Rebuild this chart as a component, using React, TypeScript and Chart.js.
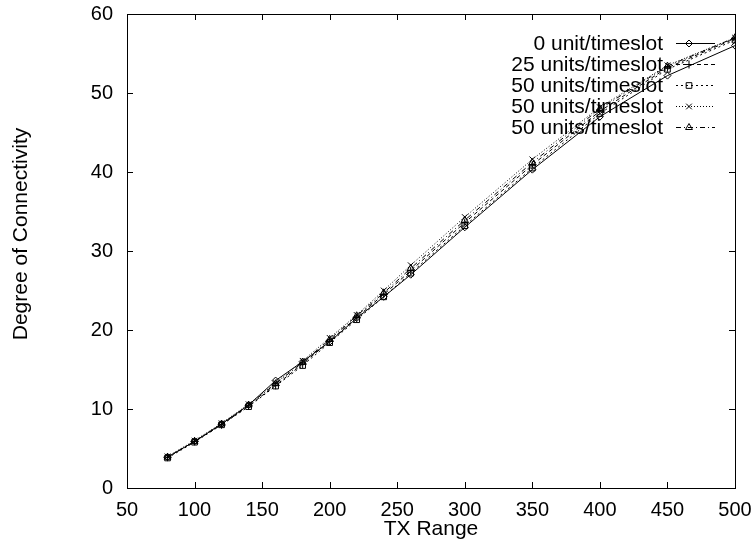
import React, { useEffect, useRef } from "react";
import { Chart, registerables } from "chart.js";
import { drawPoint } from "chart.js/helpers";

Chart.register(...registerables);

const txRange = [80, 100, 120, 140, 160, 180, 200, 220, 240, 260, 300, 350, 400, 450, 500];

const unit0 = [3.9, 5.9, 8.1, 10.5, 13.6, 16.0, 18.5, 21.5, 24.2, 27.0, 33.0, 40.3, 47.0, 52.2, 56.0];
const units25 = [3.9, 5.9, 8.0, 10.4, 13.0, 15.7, 18.6, 21.6, 24.5, 27.5, 33.6, 40.9, 47.7, 53.2, 56.9];
const units50a = [3.8, 5.8, 8.0, 10.3, 12.9, 15.5, 18.4, 21.3, 24.2, 27.2, 33.2, 40.5, 47.4, 53.0, 56.7];
const units50b = [4.0, 6.0, 8.2, 10.6, 13.3, 16.1, 19.0, 21.9, 25.0, 28.2, 34.3, 41.6, 48.2, 53.5, 57.0];
const units50c = [3.9, 5.9, 8.1, 10.5, 13.2, 15.9, 18.8, 21.8, 24.7, 27.8, 33.9, 41.2, 48.0, 53.4, 57.0];

const seriesLabels = [
  "0 unit/timeslot",
  "25 units/timeslot",
  "50 units/timeslot",
  "50 units/timeslot",
  "50 units/timeslot",
];
const seriesValues = [unit0, units25, units50a, units50b, units50c];
const pointStyles = ["rectRot", "cross", "rect", "crossRot", "triangle"];
const dashes: number[][] = [[], [4, 3], [2, 3], [1, 2], [5, 3, 1, 3]];
const radii = [3.5, 4, 4, 4, 4];

const xTitle = "TX Range";
const yTitle = "Degree of Connectivity";

const FONT = '"Liberation Sans", Arial, Helvetica, sans-serif';
const FS = 20;
const FS_TEXT = 21;

const framePlugin = {
  id: "gnuplotFrame",
  afterDatasetsDraw(chart: any) {
    const ctx = chart.ctx;
    const { left, right, top, bottom } = chart.chartArea;
    ctx.save();
    ctx.strokeStyle = "#000";
    ctx.lineWidth = 1;
    ctx.setLineDash([]);
    ctx.strokeRect(Math.round(left) + 0.5, Math.round(top) + 0.5, Math.round(right - left), Math.round(bottom - top));
    const tl = 6;
    const xs = chart.scales.x;
    xs.ticks.forEach((t: any) => {
      const px = Math.round(xs.getPixelForValue(t.value)) + 0.5;
      if (px <= left + 1 || px >= right - 1) return;
      ctx.beginPath();
      ctx.moveTo(px, bottom);
      ctx.lineTo(px, bottom - tl);
      ctx.moveTo(px, top);
      ctx.lineTo(px, top + tl);
      ctx.stroke();
    });
    const ys = chart.scales.y;
    ys.ticks.forEach((t: any) => {
      const py = Math.round(ys.getPixelForValue(t.value)) + 0.5;
      if (py <= top + 1 || py >= bottom - 1) return;
      ctx.beginPath();
      ctx.moveTo(left, py);
      ctx.lineTo(left + tl, py);
      ctx.moveTo(right, py);
      ctx.lineTo(right - tl, py);
      ctx.stroke();
    });
    // titles
    ctx.fillStyle = "#000";
    ctx.font = `${FS_TEXT}px ${FONT}`;
    ctx.textAlign = "center";
    ctx.textBaseline = "middle";
    ctx.fillText(xTitle, (left + right) / 2, 529);
    ctx.save();
    ctx.translate(21, 234);
    ctx.rotate(-Math.PI / 2);
    ctx.fillText(yTitle, 0, 0);
    ctx.restore();
    // legend
    chart.data.datasets.forEach((ds: any, i: number) => {
      const y = 43 + 21 * i;
      ctx.textAlign = "right";
      ctx.textBaseline = "middle";
      ctx.fillText(ds.label, 663, y + 1);
      ctx.beginPath();
      ctx.setLineDash(ds.borderDash || []);
      ctx.moveTo(676, y + 0.5);
      ctx.lineTo(715, y + 0.5);
      ctx.stroke();
      ctx.setLineDash([]);
      ctx.fillStyle = "rgba(0,0,0,0)";
      drawPoint(ctx, { pointStyle: ds.pointStyle, radius: ds.pointRadius, rotation: 0, borderWidth: 1 } as any, 689, y + 0.5);
      ctx.fillStyle = "#000";
    });
    ctx.restore();
  },
};

export default function App() {
  const ref = useRef<HTMLCanvasElement | null>(null);
  useEffect(() => {
    document.body.style.margin = "0";
    const canvas = ref.current;
    if (!canvas) return;
    const datasets = seriesValues.map((vals, i) => ({
      label: seriesLabels[i],
      data: vals.map((v, j) => ({ x: txRange[j], y: v })),
      borderColor: "#000",
      backgroundColor: "rgba(0,0,0,0)",
      borderWidth: 1,
      borderDash: dashes[i],
      pointStyle: pointStyles[i],
      pointRadius: radii[i],
      pointBorderColor: "#000",
      pointBackgroundColor: "rgba(0,0,0,0)",
      pointBorderWidth: 1,
      fill: false,
      tension: 0,
    }));
    const chart = new Chart(canvas, {
      type: "line",
      data: { datasets },
      options: {
        animation: false,
        responsive: false,
        maintainAspectRatio: false,
        layout: { padding: { top: 14, right: 21, left: 0, bottom: 0 } },
        plugins: { legend: { display: false }, tooltip: { enabled: false } },
        scales: {
          x: {
            type: "linear",
            min: 50,
            max: 500,
            ticks: {
              stepSize: 50,
              padding: 10,
              color: "#000",
              font: { family: FONT, size: FS },
              maxRotation: 0,
              autoSkip: false,
            },
            grid: { display: false, drawTicks: false },
            border: { display: false },
            afterFit: (s: any) => {
              s.height = 60;
              s.paddingLeft = 0;
              s.paddingRight = 0;
            },
          },
          y: {
            type: "linear",
            min: 0,
            max: 60,
            ticks: {
              stepSize: 10,
              padding: 14,
              color: "#000",
              font: { family: FONT, size: FS },
            },
            grid: { display: false, drawTicks: false },
            border: { display: false },
            afterFit: (s: any) => {
              s.width = 127;
              s.paddingTop = 0;
              s.paddingBottom = 0;
            },
          },
        },
      } as any,
      plugins: [framePlugin],
    });
    return () => chart.destroy();
  }, []);
  return <canvas ref={ref} width={756} height={548} style={{ display: "block" }} />;
}
